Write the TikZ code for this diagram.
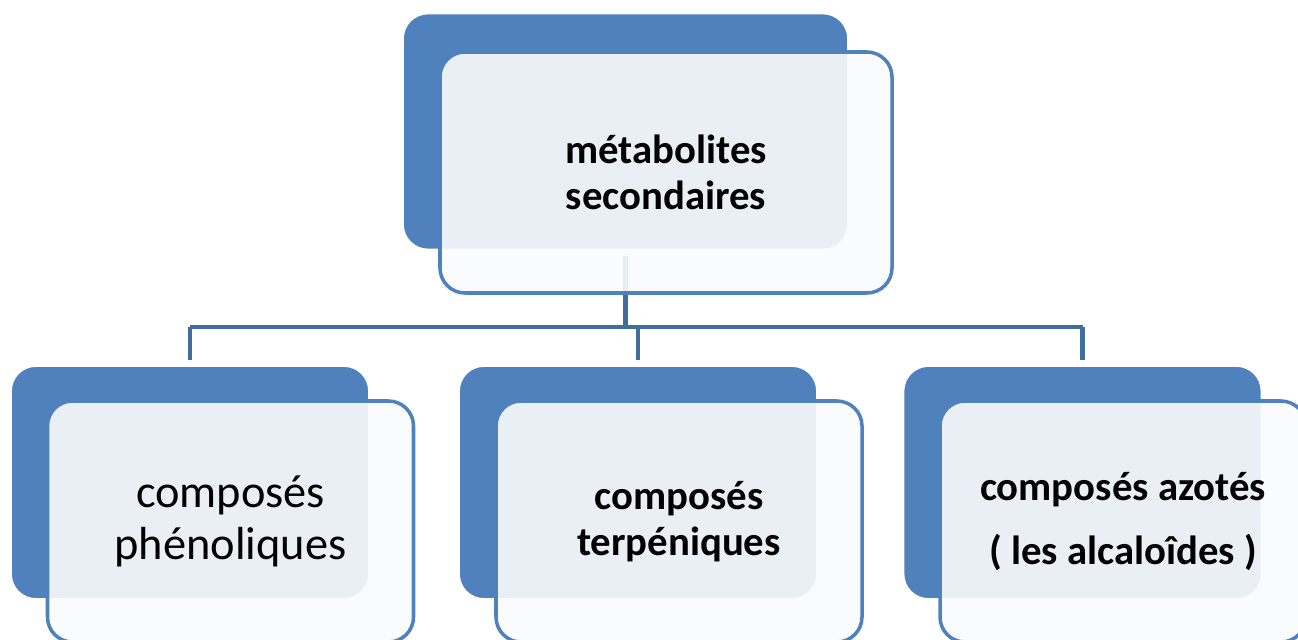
\documentclass[tikz,border=0pt]{standalone}
\usepackage{fontspec}
\setmainfont{Carlito}
\usetikzlibrary{positioning, calc}

\definecolor{backblue}{RGB}{79,129,189}
\definecolor{lineblue}{RGB}{65,108,158}
\definecolor{frontfill}{RGB}{250,251,252}

\begin{document}
\begin{tikzpicture}[
x=0.02cm, y=-0.02cm,
back/.style={draw=white, line width=1pt, fill=backblue, rounded corners=0.5cm, minimum width=358*0.02cm, minimum height=233*0.02cm},
front/.style={draw=backblue, line width=2pt, fill=frontfill, fill opacity=0.9, text opacity=1, rounded corners=0.5cm, align=center, minimum width=366*0.02cm, minimum height=241*0.02cm},
boldlabel/.style={font=\fontsize{23.2}{26.5}\selectfont\bfseries},
link/.style={draw=lineblue, line width=2.3pt}
]
\clip (0,0) rectangle (1298,639);

% back plates
\node[back, minimum width=445*0.02cm, minimum height=236*0.02cm] (topback) at (625.5,131.5) {};
\node[back] (back1) at (190,482.5) {};
\node[back] (back2) at (638,482.5) {};
\node[back] (back3) at (1082.5,482.5) {};

% tree links
\coordinate (bus) at (0,327);
\draw[link] ([yshift=-3pt]topback.south) -- (topback.south |- bus);
\draw[link] (back1.north |- bus) -- (back3.north |- bus);
\foreach \b in {back1, back2, back3}
  \draw[link] (\b.north |- bus) -- ([yshift=3pt]\b.north);

% front plates
\node[front, boldlabel, minimum width=452*0.02cm] (top) at (666,172.5) {métabolites\\secondaires};
\node[front, font=\fontsize{26.4}{29.6}\selectfont] (phenol) at (230.5,521.5) {composés\\phénoliques};
\node[front, boldlabel] (terpen) at (679,521.5) {composés\\terpéniques};
\node[front, boldlabel] (azote) at (1123,521.5) {composés azotés\\[10pt]( les alcaloîdes )};

\end{tikzpicture}
\end{document}
